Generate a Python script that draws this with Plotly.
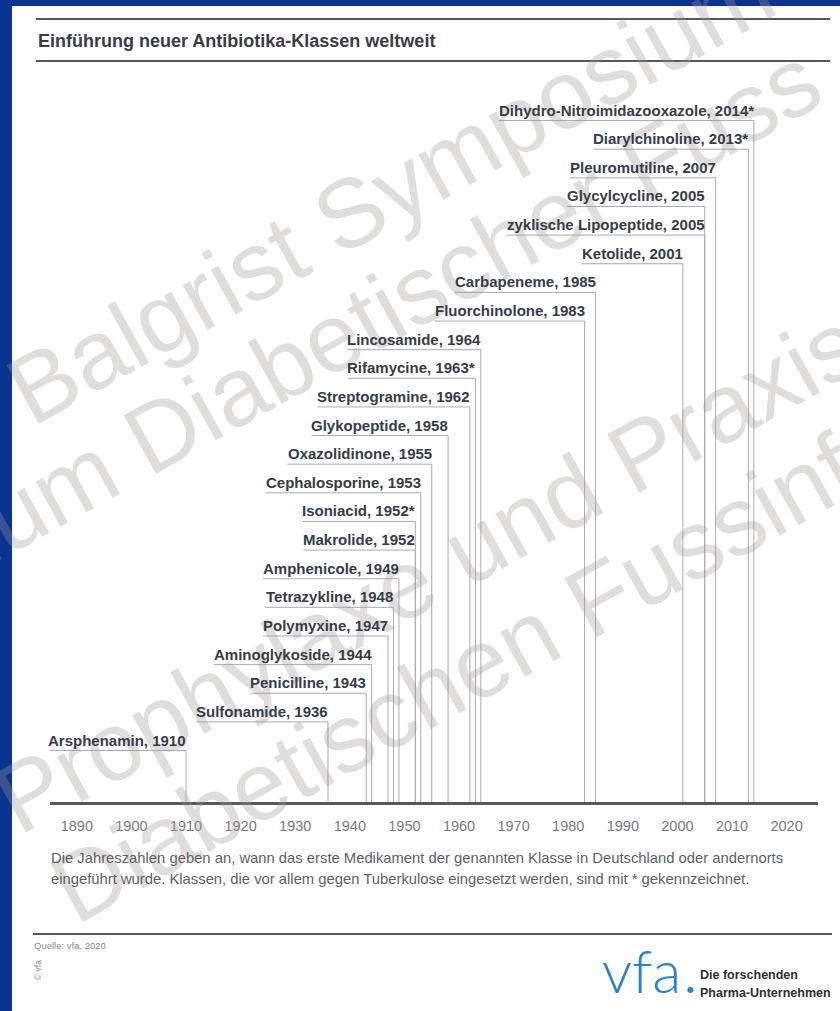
import math
import plotly.graph_objects as go

# ---- data -------------------------------------------------------------
classes = [
    "Arsphenamin", "Sulfonamide", "Penicilline", "Aminoglykoside",
    "Polymyxine", "Tetrazykline", "Amphenicole", "Makrolide", "Isoniacid",
    "Cephalosporine", "Oxazolidinone", "Glykopeptide", "Streptogramine",
    "Rifamycine", "Lincosamide", "Fluorchinolone", "Carbapeneme", "Ketolide",
    "zyklische Lipopeptide", "Glycylcycline", "Pleuromutiline",
    "Diarylchinoline", "Dihydro-Nitroimidazooxazole",
]
years = [
    1910, 1936, 1943, 1944, 1947, 1948, 1949, 1952, 1952, 1953, 1955, 1958,
    1962, 1963, 1964, 1983, 1985, 2001, 2005, 2005, 2007, 2013, 2014,
]
# classes used mainly against tuberculosis (marked with *)
tuberculosis = [
    False, False, False, False, False, False, False, False, True, False,
    False, False, False, True, False, False, False, False, False, False,
    False, True, True,
]
tick_years = [1890, 1900, 1910, 1920, 1930, 1940, 1950, 1960, 1970, 1980,
              1990, 2000, 2010, 2020]

title = "Einführung neuer Antibiotika-Klassen weltweit"
note_lines = [
    "Die Jahreszahlen geben an, wann das erste Medikament der genannten Klasse in Deutschland oder andernorts",
    "eingeführt wurde. Klassen, die vor allem gegen Tuberkulose eingesetzt werden, sind mit * gekennzeichnet.",
]
source = "Quelle: vfa, 2020"

# ---- page geometry ------------------------------------------------------
W, H = 840, 1011
ML, MR, MT, MB = 50, 22, 80, 209
PW, PH = W - ML - MR, H - MT - MB
x_range = [1885.09, 2025.75]
y_range = [-2.165, 23.05]
px_per_year = PW / (x_range[1] - x_range[0])
px_per_level = PH / (y_range[1] - y_range[0])


def px(X):
    return (X - ML) / PW


def py(Y):
    return (MT + PH - Y) / PH


# advance widths (1/1000 em) of the bold sans used for the labels
BOLD_W = {
    " ": 278, ",": 278, "-": 333, "*": 389, ".": 278,
    "A": 722, "C": 722, "D": 722, "F": 611, "G": 778, "I": 278, "K": 722,
    "L": 611, "M": 833, "N": 722, "O": 778, "P": 667, "R": 722, "S": 667,
    "T": 611,
    "a": 556, "b": 611, "c": 556, "d": 611, "e": 556, "f": 333, "g": 611,
    "h": 611, "i": 278, "j": 278, "k": 556, "l": 278, "m": 889, "n": 611,
    "o": 611, "p": 611, "q": 611, "r": 389, "s": 556, "t": 333, "u": 611,
    "v": 556, "w": 778, "x": 556, "y": 556, "z": 500,
}
REG_W = {
    " ": 278, "A": 667, "B": 667, "C": 722, "D": 722, "F": 611, "P": 667,
    "S": 667,
    "a": 556, "b": 556, "c": 500, "d": 556, "e": 556, "f": 278, "g": 556,
    "h": 556, "i": 222, "k": 500, "l": 222, "m": 833, "n": 556, "o": 556,
    "p": 556, "r": 333, "s": 500, "t": 278, "u": 556, "x": 500, "y": 500,
    "z": 500,
}


def text_width(s, size, table):
    return sum(table.get(ch, 556) for ch in s) * size / 1000.0


LABEL_FONT = 15
FONT = "Liberation Sans, Arial, sans-serif"
DARK = "#373c4a"
LINE = "#ababaf"

labels = [f"{c}, {y}{'*' if tb else ''}" for c, y, tb in zip(classes, years, tuberculosis)]
levels = list(range(len(classes)))
underline_gap = 10.5 / px_per_level

# underline + drop line to the time axis for every class
xs, ys = [], []
for lab, yr, lv in zip(labels, years, levels):
    w_years = text_width(lab, LABEL_FONT, BOLD_W) / px_per_year
    yl = lv - underline_gap
    xs += [yr - w_years, yr, yr, None]
    ys += [yl, yl, y_range[0], None]

fig = go.Figure()
fig.add_trace(go.Scatter(
    x=xs, y=ys, mode="lines", line=dict(color=LINE, width=1),
    hoverinfo="skip", showlegend=False,
))

annotations = []

# diagonal overlay text (drawn first so the chart text sits on top)
WM_ANGLE = 29.0
WM_SIZE = 97
wm_lines = [
    ("Balgrist Symposium", "", (32, 428)),
    ("Symposium Diabetischer Fuss", "Symposium ", (149, 478)),
    ("Prophylaxe und Praxis", "", (20, 836)),
    ("Diabetischen Fussinfektion", "", (76, 926)),
]
a = math.radians(WM_ANGLE)
d = (math.cos(a), -math.sin(a))
up = (-math.sin(a), -math.cos(a))
for txt, lead, (sx, sy) in wm_lines:
    lead_w = text_width(lead, WM_SIZE, REG_W)
    x0, y0 = sx - lead_w * d[0], sy - lead_w * d[1]
    tw = text_width(txt, WM_SIZE, REG_W)
    cx = x0 + tw / 2 * d[0] + 0.35 * WM_SIZE * up[0]
    cy = y0 + tw / 2 * d[1] + 0.35 * WM_SIZE * up[1]
    annotations.append(dict(
        x=px(cx), y=py(cy), xref="paper", yref="paper", text=txt,
        showarrow=False, xanchor="center", yanchor="middle",
        textangle=-WM_ANGLE,
        font=dict(family=FONT, size=WM_SIZE, color="rgba(160,150,150,0.32)"),
    ))

for lab, yr, lv in zip(labels, years, levels):
    annotations.append(dict(
        x=yr, y=lv, xref="x", yref="y", text=lab, showarrow=False,
        xanchor="right", yanchor="middle", borderpad=0, borderwidth=0,
        font=dict(family=FONT, size=LABEL_FONT, color=DARK, weight="bold"),
    ))

# title
annotations.append(dict(
    x=px(36), y=py(41), xref="paper", yref="paper", text=title,
    showarrow=False, xanchor="left", yanchor="middle",
    font=dict(family=FONT, size=18, color="#3a3c46", weight="bold"),
))
# footnote
for i, line in enumerate(note_lines):
    annotations.append(dict(
        x=px(49), y=py(858 + 21 * i), xref="paper", yref="paper", text=line,
        showarrow=False, xanchor="left", yanchor="middle",
        font=dict(family=FONT, size=14.8, color="#5d5f66"),
    ))
annotations.append(dict(
    x=px(32), y=py(945), xref="paper", yref="paper", text=source,
    showarrow=False, xanchor="left", yanchor="middle",
    font=dict(family=FONT, size=9.5, color="#8a8a8e"),
))
annotations.append(dict(
    x=px(38), y=py(970), xref="paper", yref="paper", text="© vfa",
    showarrow=False, xanchor="center", yanchor="middle", textangle=-90,
    font=dict(family=FONT, size=8.5, color="#8a8a8e"),
))
# vfa logo
annotations.append(dict(
    x=px(600), y=py(970), xref="paper", yref="paper", text="vfa",
    showarrow=False, xanchor="left", yanchor="middle",
    font=dict(family="Lato, Liberation Sans, sans-serif", size=60,
              color="#2a84c6", weight=300),
))
annotations.append(dict(
    x=px(685), y=py(989), xref="paper", yref="paper", text="●",
    showarrow=False, xanchor="left", yanchor="middle",
    font=dict(family="DejaVu Sans, sans-serif", size=8, color="#2a84c6"),
))
for i, line in enumerate(["Die forschenden", "Pharma-Unternehmen"]):
    annotations.append(dict(
        x=px(698), y=py(975 + 18 * i), xref="paper", yref="paper", text=line,
        showarrow=False, xanchor="left", yanchor="middle",
        font=dict(family=FONT, size=12.5, color="#2e2f35", weight="bold"),
    ))

shapes = []
# frame
shapes.append(dict(type="rect", xref="paper", yref="paper",
                   x0=px(0), x1=px(12), y0=py(H), y1=py(0),
                   fillcolor="#0b3391", line=dict(width=0), layer="above"))
shapes.append(dict(type="rect", xref="paper", yref="paper",
                   x0=px(0), x1=px(W), y0=py(6), y1=py(0),
                   fillcolor="#0b3391", line=dict(width=0), layer="above"))
# rules
for yy, x0r, x1r in [(19, 36, 830), (61, 36, 830), (934, 33, 832)]:
    shapes.append(dict(type="line", xref="paper", yref="paper",
                       x0=px(x0r), x1=px(x1r), y0=py(yy), y1=py(yy),
                       line=dict(color="#55575c", width=2)))

fig.update_layout(
    width=W, height=H,
    margin=dict(l=ML, r=MR, t=MT, b=MB, pad=0),
    paper_bgcolor="white", plot_bgcolor="white",
    showlegend=False,
    annotations=annotations,
    shapes=shapes,
    xaxis=dict(
        range=x_range, showgrid=False, zeroline=False,
        showline=True, linecolor="#55575c", linewidth=2.5,
        tickmode="array", tickvals=tick_years,
        ticktext=[str(t) for t in tick_years],
        ticks="", ticklabelstandoff=9,
        tickfont=dict(family=FONT, size=14.5, color="#7a7a7e"),
        fixedrange=True,
    ),
    yaxis=dict(
        range=y_range, visible=False, showgrid=False, zeroline=False,
        fixedrange=True,
    ),
)

fig.write_html("out.html")
